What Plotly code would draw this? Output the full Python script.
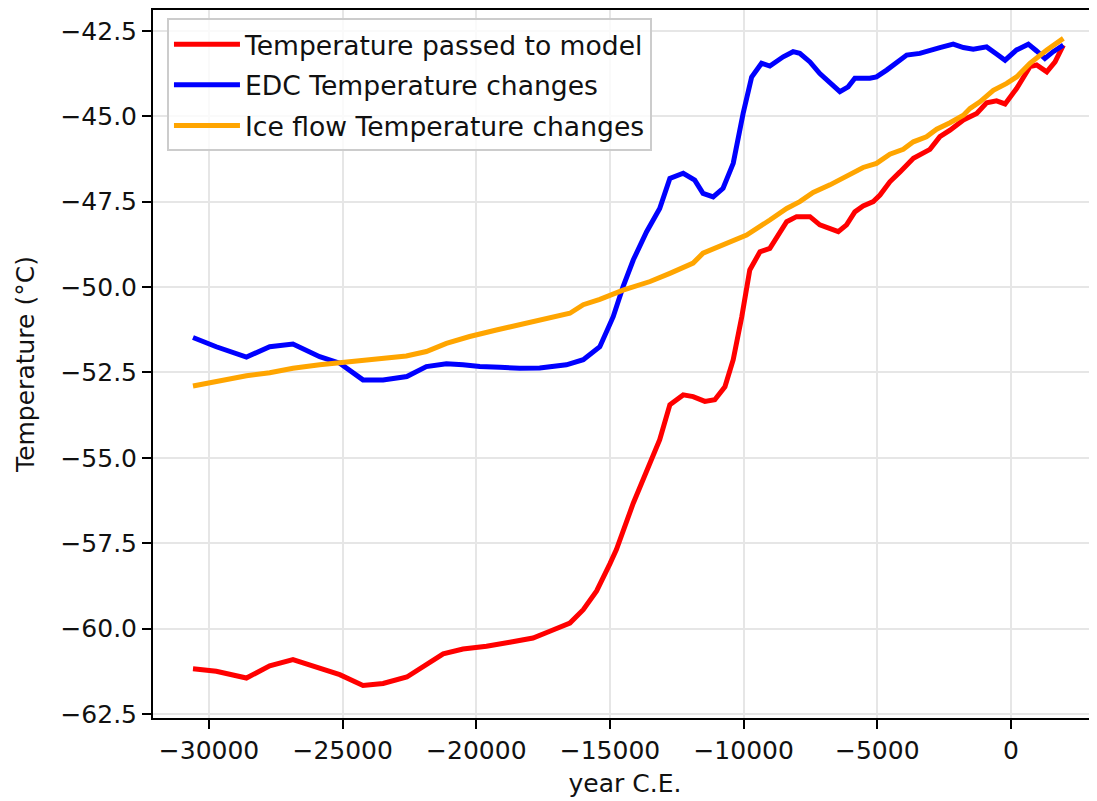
import plotly.graph_objects as go

# temperature passed to the model (red)
model_year = [-30600, -29730, -28600, -27730, -26860, -25860, -25110, -24240, -23490, -22600,
              -21870, -21240, -20500, -19620, -18750, -17880, -17250, -16500, -16000, -15500,
              -15000, -14760, -14130, -13500, -13140, -12760, -12260, -11890, -11450, -11080,
              -10700, -10390, -10070, -9770, -9390, -9020, -8770, -8390, -8020, -7520,
              -7150, -6460, -6150, -5840, -5530, -5150, -4900, -4530, -4150, -3650,
              -3030, -2660, -2280, -1780, -1280, -910, -540, -220, 210, 710,
              960, 1340, 1650, 1960]
model_temp = [-61.18, -61.25, -61.45, -61.09, -60.91, -61.15, -61.35, -61.67, -61.61, -61.42,
              -61.06, -60.74, -60.60, -60.52, -60.40, -60.28, -60.08, -59.84, -59.45, -58.90,
              -58.10, -57.69, -56.33, -55.16, -54.47, -53.45, -53.16, -53.21, -53.35, -53.30,
              -52.92, -52.13, -50.87, -49.50, -48.97, -48.87, -48.57, -48.09, -47.94, -47.94,
              -48.18, -48.38, -48.18, -47.80, -47.63, -47.50, -47.31, -46.92, -46.63, -46.23,
              -45.97, -45.60, -45.41, -45.11, -44.92, -44.61, -44.55, -44.64, -44.19, -43.55,
              -43.50, -43.70, -43.41, -42.92]

# EDC temperature changes (blue)
edc_year = [-30600, -29730, -28600, -27730, -26860, -25860, -25110, -24240, -23490, -22600,
            -21870, -21120, -20500, -19870, -19120, -18380, -17630, -16630, -16000, -15380,
            -14880, -14510, -14130, -13630, -13140, -12760, -12260, -11830, -11520, -11140,
            -10770, -10390, -10020, -9700, -9330, -9020, -8520, -8150, -7900, -7520,
            -7150, -6770, -6400, -6090, -5840, -5280, -5030, -4650, -4280, -3900,
            -3410, -3030, -2660, -2160, -1780, -1410, -910, -540, -220, 210,
            650, 960, 1270, 1580, 1960]
edc_temp = [-51.48, -51.75, -52.05, -51.75, -51.67, -52.04, -52.23, -52.72, -52.72, -52.62,
            -52.33, -52.25, -52.28, -52.33, -52.35, -52.38, -52.37, -52.28, -52.13, -51.75,
            -50.87, -49.99, -49.21, -48.38, -47.70, -46.82, -46.67, -46.87, -47.26, -47.36,
            -47.11, -46.38, -44.92, -43.85, -43.45, -43.53, -43.26, -43.11, -43.16, -43.41,
            -43.75, -44.04, -44.28, -44.14, -43.89, -43.89, -43.85, -43.65, -43.41, -43.21,
            -43.16, -43.09, -42.99, -42.89, -42.99, -43.04, -42.97, -43.18, -43.36, -43.06,
            -42.89, -43.09, -43.31, -43.11, -42.92]

# ice flow temperature changes (orange)
flow_year = [-30600, -29600, -28600, -27730, -26860, -25860, -25110, -24110, -23360, -22620,
             -21870, -21120, -20250, -19250, -18380, -17630, -16500, -16000, -15380, -14510,
             -13500, -12760, -11890, -11520, -10770, -9890, -9020, -8390, -7900, -7400,
             -6770, -6030, -5530, -5030, -4530, -4030, -3650, -3160, -2780, -2280,
             -1780, -1530, -1160, -660, -160, 210, 710, 1340, 1960]
flow_temp = [-52.90, -52.74, -52.60, -52.51, -52.38, -52.28, -52.21, -52.13, -52.08, -52.02,
             -51.89, -51.65, -51.45, -51.26, -51.11, -50.96, -50.77, -50.52, -50.36, -50.09,
             -49.84, -49.60, -49.30, -49.01, -48.77, -48.48, -48.04, -47.70, -47.50, -47.23,
             -47.01, -46.72, -46.50, -46.38, -46.11, -45.97, -45.75, -45.60, -45.38, -45.19,
             -44.97, -44.77, -44.58, -44.24, -44.04, -43.85, -43.45, -43.06, -42.72]

x_ticks = [-30000, -25000, -20000, -15000, -10000, -5000, 0]
y_ticks = [-62.5, -60.0, -57.5, -55.0, -52.5, -50.0, -47.5, -45.0, -42.5]

font = "DejaVu Sans, Liberation Sans, sans-serif"

fig = go.Figure()

fig.add_trace(go.Scatter(x=model_year, y=model_temp, mode="lines",
                         name="Temperature passed to model", legendgroup="a",
                         line=dict(color="red", width=5)))
fig.add_trace(go.Scatter(x=edc_year, y=edc_temp, mode="lines",
                         name="EDC Temperature changes", legendgroup="b",
                         line=dict(color="blue", width=5)))
fig.add_trace(go.Scatter(x=flow_year, y=flow_temp, mode="lines",
                         name="Ice flow Temperature changes", legendgroup="c",
                         line=dict(color="orange", width=5)))

axis_common = dict(
    showgrid=True, gridcolor="#e6e6e6", gridwidth=2,
    showline=True, linecolor="black", linewidth=2,
    ticks="outside", ticklen=9, tickwidth=2, tickcolor="black",
    zeroline=False, automargin=False,
    tickfont=dict(family=font, size=25, color="#111111"),
)

# the page body adds an 8px offset, so the figure is sized to compensate
fig.update_layout(
    width=1089, height=793,
    margin=dict(l=145, r=0, t=2, b=83),
    paper_bgcolor="white", plot_bgcolor="white",
    font=dict(family=font, size=25, color="#111111"),
    xaxis=dict(axis_common, range=[-32096, 3219], tickvals=x_ticks, tickformat="d",
               mirror=True,
               title=dict(text="year C.E.", font=dict(family=font, size=25), standoff=10)),
    yaxis=dict(axis_common, range=[-62.62, -41.89], tickvals=y_ticks, tickformat=".1f",
               title=dict(text="Temperature (°C)", font=dict(family=font, size=25), standoff=19)),
    legend=dict(x=0.0148, y=0.988, xanchor="left", yanchor="top",
                bgcolor="rgba(255,255,255,0.8)", bordercolor="#cccccc", borderwidth=2,
                font=dict(family=font, size=26.6, color="#111111"),
                itemwidth=66, tracegroupgap=3, traceorder="grouped"),
    showlegend=True,
)

fig.write_html("out.html")
